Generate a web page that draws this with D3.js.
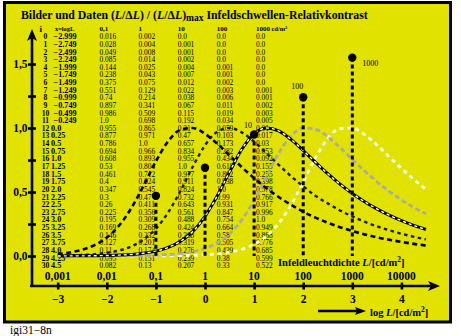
<!DOCTYPE html>
<html><head><meta charset="utf-8">
<script src="https://cdn.jsdelivr.net/npm/d3@7"></script>
<style>
body{margin:0;background:#fff}
svg{display:block}
text{font-family:"Liberation Serif","Times New Roman",serif;fill:#000}
</style>
</head><body>
<script>
// log10 of the infield luminance, one row per 0.25 step
const logL = [-2.999,-2.749,-2.499,-2.249,-1.999,-1.749,-1.499,-1.249,-0.999,-0.749,-0.499,-0.249,
  0,0.25,0.5,0.75,1,1.25,1.5,1.75,2,2.25,2.5,2.75,3,3.25,3.5,3.75,4,4.25,4.5];

// relative contrast (L/ΔL)/(L/ΔL)max for the adaptation luminances 0.1 … 1000 cd/m²
const rel01 = [0.016,0.028,0.049,0.085,0.144,0.238,0.375,0.551,0.74,0.897,0.986,1,0.955,0.877,0.786,0.694,
  0.608,0.53,0.461,0.4,0.347,0.3,0.26,0.225,0.195,0.169,0.146,0.127,0.11,0.095,0.082];
const rel1 = [0.002,0.004,0.008,0.014,0.025,0.043,0.075,0.129,0.214,0.341,0.509,0.698,0.865,0.971,1,0.966,
  0.893,0.804,0.712,0.624,0.545,0.47,0.411,0.356,0.309,0.268,0.232,0.201,0.174,0.151,0.13];
const rel10 = [0,0.001,0.001,0.002,0.004,0.007,0.012,0.022,0.038,0.067,0.115,0.192,0.31,0.47,0.657,0.834,
  0.955,1,0.977,0.911,0.824,0.732,0.643,0.561,0.488,0.424,0.368,0.319,0.276,0.239,0.207];
const rel100 = [0,0,0,0,0.001,0.001,0.002,0.003,0.006,0.011,0.019,0.034,0.059,0.103,0.173,0.282,
  0.434,0.618,0.802,0.938,1,0.99,0.931,0.847,0.754,0.664,0.58,0.505,0.439,0.38,0.33];
const rel1000 = [0,0,0,0,0,0,0,0.001,0.001,0.002,0.003,0.005,0.01,0.017,0.03,0.053,
  0.092,0.155,0.255,0.398,0.578,0.766,0.917,0.996,1,0.949,0.868,0.776,0.685,0.599,0.522];

const columnHeaders = ["0,1","1","10","100","1000"];

// adaptation luminances and the heights of their marker points
const adaptLum = [0.1,1,10,100,1000];
const adaptLevel = [0.47,0.69,0.95,1.24,1.55];
const adaptLabel = ["","","10","100","1000"];

// axis ticks
const logTicks = [-3,-2,-1,0,1,2,3,4];
const lumTickLabels = ["0,001","0,01","0,1","1","10","100","1000","10000"];
const yTicks = [0,0.25,0.5,0.75,1,1.25,1.5];
const yTickLabels = {"0":"0,0","0.5":"0,5","1":"1,0","1.5":"1,5"};

const W = 461, H = 336;
const svg = d3.select("body").append("svg").attr("width", W).attr("height", H);

// yellow panel with black frame
svg.append("rect").attr("x",4.5).attr("y",2.5).attr("width",446).attr("height",319.5)
  .attr("fill","#e2e200").attr("stroke","#000").attr("stroke-width",3);

const x = d3.scaleLinear().domain([-3,4]).range([57.7,401.4]);
const y = d3.scaleLinear().domain([0,1.5]).range([256,64]);

// title
const title = svg.append("text").attr("x",21).attr("y",18.5)
  .attr("font-size",11.8).attr("font-weight","bold");
title.append("tspan").text("Bilder und Daten (");
title.append("tspan").attr("font-style","italic").text("L");
title.append("tspan").text("/Δ");
title.append("tspan").attr("font-style","italic").text("L");
title.append("tspan").text(") / (");
title.append("tspan").attr("font-style","italic").text("L");
title.append("tspan").text("/Δ");
title.append("tspan").attr("font-style","italic").text("L");
title.append("tspan").text(")");
title.append("tspan").attr("dy",2.5).attr("font-size",9.5).text("max");
title.append("tspan").attr("dy",-2.5).text(" Infeldschwellen-Relativkontrast");

// data table
const fmt = v => Number.isInteger(v) ? v.toFixed(1) : String(v);
const fmtX = v => (v < 0 ? "\u2212" + fmt(-v) : fmt(v));
const colX = [99.5,138.5,177.7,216.7,256];
const rowY = i => 39.3 + 7.63 * i;
const table = svg.append("g").attr("font-size",7.4);
const head = svg.append("g").attr("font-weight","bold");
head.append("text").attr("x",39.5).attr("y",31.5).attr("font-size",9).text("i");
head.append("text").attr("x",55).attr("y",31).attr("font-size",6.4).text("x=logL");
columnHeaders.forEach((h,k) => {
  const t = head.append("text").attr("x",colX[k]).attr("y",31).attr("font-size",7);
  t.append("tspan").text(h);
  if (k === columnHeaders.length-1) {
    t.append("tspan").attr("font-size",6.4).text(" cd/m");
    t.append("tspan").attr("font-size",4.5).attr("dy",-2.5).text("2");
  }
});
const cols = [rel01, rel1, rel10, rel100, rel1000];
logL.forEach((lv,i) => {
  table.append("text").attr("x",45.5).attr("y",rowY(i)).attr("text-anchor","middle")
    .attr("font-weight","bold").attr("font-size",7.6).text(i);
  table.append("text").attr("x", lv < 0 ? 53.5 : 51).attr("y",rowY(i))
    .attr("font-weight","bold").attr("font-size",8.2).text(fmtX(lv));
  cols.forEach((c,k) => {
    table.append("text").attr("x",colX[k]).attr("y",rowY(i)).text(fmt(c[i]));
  });
});

// axes
const axisG = svg.append("g");
axisG.append("line").attr("x1",30).attr("x2",432).attr("y1",286).attr("y2",286)
  .attr("stroke","#000").attr("stroke-width",2.6);
axisG.append("path").attr("d","M440,286 L428,281 L431,286 L428,291 Z").attr("fill","#000");
axisG.append("line").attr("x1",32).attr("x2",32).attr("y1",287).attr("y2",38)
  .attr("stroke","#000").attr("stroke-width",2.6);
axisG.append("path").attr("d","M32,29 L27,41 L32,38 L37,41 Z").attr("fill","#000");

const xAxis = d3.axisBottom(x).tickValues(logTicks)
  .tickFormat(d => d < 0 ? "\u2212" + (-d) : String(d)).tickSizeInner(3.5).tickSizeOuter(0).tickPadding(6);
const gx = svg.append("g").attr("transform","translate(0,286)").call(xAxis);
gx.select(".domain").remove();
gx.selectAll(".tick line").attr("y1",-3.5).attr("y2",3.5).attr("stroke","#000").attr("stroke-width",2.6);
gx.selectAll(".tick text").attr("font-size",11.5).attr("font-weight","bold")
  .attr("font-family","'Liberation Serif',serif").attr("fill","#000").attr("y",17).attr("dy",0);

svg.append("g").selectAll("text").data(logTicks).join("text")
  .attr("x",d => x(d)).attr("y",280).attr("text-anchor","middle")
  .attr("font-size",11.5).attr("font-weight","bold")
  .text((d,k) => lumTickLabels[k]);

const yAxis = d3.axisLeft(y).tickValues(yTicks)
  .tickFormat(d => yTickLabels[String(d)] || "").tickSizeInner(4).tickSizeOuter(0).tickPadding(0.5);
const gy = svg.append("g").attr("transform","translate(32,0)").call(yAxis);
gy.select(".domain").remove();
gy.selectAll(".tick line").attr("x1",-4).attr("x2",4).attr("stroke","#000").attr("stroke-width",2.6);
gy.selectAll(".tick text").attr("font-size",11.5).attr("font-weight","bold")
  .attr("font-family","'Liberation Serif',serif").attr("fill","#000");

// axis titles
const xt = svg.append("text").attr("x",278).attr("y",266).attr("font-size",10.5).attr("font-weight","bold");
xt.append("tspan").text("Infeldleuchtdichte ");
xt.append("tspan").attr("font-style","italic").text("L");
xt.append("tspan").text("/[cd/m");
xt.append("tspan").attr("font-size",7.5).attr("dy",-4).text("2");
xt.append("tspan").attr("dy",4).text("]");

svg.append("line").attr("x1",318).attr("x2",358).attr("y1",311).attr("y2",311)
  .attr("stroke","#000").attr("stroke-width",2.6);
svg.append("path").attr("d","M366,311 L355,307 L357,311 L355,315 Z").attr("fill","#000");
const lt = svg.append("text").attr("x",370).attr("y",315.5).attr("font-size",10.5).attr("font-weight","bold");
lt.append("tspan").text("log ");
lt.append("tspan").attr("font-style","italic").text("L");
lt.append("tspan").text("/[cd/m");
lt.append("tspan").attr("font-size",7.5).attr("dy",-4).text("2");
lt.append("tspan").attr("dy",4).text("]");

// curves
const line = d3.line().x(d => x(d[0])).y(d => y(d[1])).curve(d3.curveMonotoneX);
const pts = arr => logL.map((lv,i) => [lv, arr[i]]);
const curves = svg.append("g").attr("fill","none");
curves.append("path").attr("d",line(pts(rel1000))).attr("stroke","#fff").attr("stroke-width",2.8).attr("stroke-dasharray","4,4");
curves.append("path").attr("d",line(pts(rel100))).attr("stroke","#aaa").attr("stroke-width",2.8).attr("stroke-dasharray","5,3");
curves.append("path").attr("d",line(pts(rel1))).attr("stroke","#1a1a1a").attr("stroke-width",2.4).attr("stroke-dasharray","3.5,3.5");
curves.append("path").attr("d",line(pts(rel01))).attr("stroke","#000").attr("stroke-width",2.6).attr("stroke-dasharray","5,3.5");
curves.append("path").attr("d",line(pts(rel10))).attr("stroke","#000").attr("stroke-width",3);
curves.append("path").attr("d",line(pts(rel10))).attr("stroke","#fff").attr("stroke-width",1.4).attr("stroke-dasharray","3,3");

// adaptation markers with dotted drop lines
const mk = svg.append("g");
adaptLum.forEach((L,k) => {
  const lx = x(Math.log10(L));
  mk.append("line").attr("x1",lx).attr("x2",lx).attr("y1",y(adaptLevel[k])).attr("y2",y(0))
    .attr("stroke","#000").attr("stroke-width",3).attr("stroke-dasharray","4,3");
  mk.append("circle").attr("cx",lx).attr("cy",y(adaptLevel[k])).attr("r",4.2).attr("fill","#000");
});
mk.append("text").attr("x",x(1)-6).attr("y",y(adaptLevel[2])-6).attr("text-anchor","middle").attr("font-size",8).text(adaptLabel[2]);
mk.append("text").attr("x",x(2)-6).attr("y",y(adaptLevel[3])-8).attr("text-anchor","middle").attr("font-size",8).text(adaptLabel[3]);
mk.append("text").attr("x",x(3)+10).attr("y",y(adaptLevel[4])+8).attr("font-size",8).text(adaptLabel[4]);

// figure id
svg.append("text").attr("x",10).attr("y",333.5).attr("font-size",11.5).text("igi31\u22128n");
</script>
</body></html>
